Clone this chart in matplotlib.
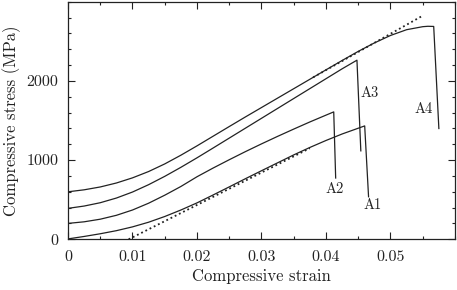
import matplotlib
matplotlib.use("Agg")
import matplotlib.pyplot as plt
from matplotlib.ticker import MultipleLocator

plt.rcParams['font.family'] = 'serif'
plt.rcParams['font.serif'] = ['cmr10', 'DejaVu Serif']
plt.rcParams['mathtext.fontset'] = 'cm'
plt.rcParams['axes.unicode_minus'] = False

# strain / stress
strain_a1 = [0, 0.0025, 0.005, 0.0075, 0.010, 0.0125, 0.015, 0.0175, 0.020, 0.0225,
             0.025, 0.0275, 0.030, 0.0325, 0.035, 0.0375, 0.040, 0.0425, 0.0460, 0.0466]
stress_a1 = [5, 36, 70, 109, 157, 216, 288, 370, 460, 560,
             662, 765, 866, 966, 1066, 1160, 1248, 1330, 1432, 537]

strain_a2 = [0, 0.0025, 0.005, 0.0075, 0.010, 0.0125, 0.015, 0.0175, 0.020, 0.0225,
             0.025, 0.0275, 0.030, 0.0325, 0.035, 0.0375, 0.040, 0.0412, 0.0415]
stress_a2 = [201, 221, 254, 303, 370, 456, 557, 667, 790, 900,
             1005, 1107, 1205, 1300, 1392, 1482, 1568, 1609, 774]

strain_a3 = [0, 0.0025, 0.005, 0.0075, 0.010, 0.0125, 0.015, 0.0175, 0.020, 0.0225,
             0.025, 0.0275, 0.030, 0.0325, 0.035, 0.0375, 0.040, 0.0425, 0.0448, 0.0454]
stress_a3 = [391, 420, 462, 521, 597, 690, 795, 909, 1029, 1153,
             1278, 1403, 1528, 1653, 1778, 1903, 2028, 2153, 2262, 1117]

strain_a4 = [0, 0.0025, 0.005, 0.0075, 0.010, 0.0125, 0.015, 0.0175, 0.020, 0.0225,
             0.025, 0.0275, 0.030, 0.0325, 0.035, 0.0375, 0.040, 0.0425, 0.045, 0.0475,
             0.050, 0.0525, 0.055, 0.0558, 0.0567, 0.0575]
stress_a4 = [600, 625, 661, 711, 776, 856, 952, 1062, 1180, 1302,
             1424, 1545, 1664, 1783, 1902, 2021, 2140, 2258, 2373, 2480,
             2574, 2647, 2685, 2690, 2688, 1399]

tangent_low_x = [0.0094, 0.0375]
tangent_low_y = [0, 1150]
tangent_high_x = [0.038, 0.0548]
tangent_high_y = [2045, 2815]

labels = ['A1', 'A2', 'A3', 'A4']
label_x = [0.0472, 0.0414, 0.0468, 0.0551]
label_y = [430, 635, 1840, 1642]

xticks = [0, 0.01, 0.02, 0.03, 0.04, 0.05]
xtick_labels = ['0', '0.01', '0.02', '0.03', '0.04', '0.05']
yticks = [0, 1000, 2000]
ytick_labels = ['0', '1000', '2000']

fig = plt.figure(figsize=(4.57, 2.90), dpi=100)
ax = fig.add_axes([0.1488, 0.1748, 0.8468, 0.8192])

lc = '#222222'
for sx, sy in [(strain_a1, stress_a1), (strain_a2, stress_a2),
               (strain_a3, stress_a3), (strain_a4, stress_a4)]:
    ax.plot(sx, sy, color=lc, lw=0.9)

ax.plot(tangent_low_x, tangent_low_y, color=lc, lw=1.3, ls=(0, (1, 1.6)))
ax.plot(tangent_high_x, tangent_high_y, color=lc, lw=1.3, ls=(0, (1, 1.6)))

for t, x, y in zip(labels, label_x, label_y):
    ax.text(x, y, t, ha='center', va='center', fontsize=10.5, color=lc)

ax.set_xlim(0, 0.06)
ax.set_ylim(0, 3000)
ax.set_xticks(xticks)
ax.set_xticklabels(xtick_labels)
ax.set_yticks(yticks)
ax.set_yticklabels(ytick_labels)
ax.xaxis.set_minor_locator(MultipleLocator(0.005))
ax.yaxis.set_minor_locator(MultipleLocator(200))
ax.tick_params(which='both', direction='in', top=True, right=True,
               labelsize=11.5, colors=lc)
ax.tick_params(axis='x', which='both', pad=8)
ax.tick_params(axis='y', which='both', pad=7)
ax.tick_params(which='major', length=5, width=0.8)
ax.tick_params(which='minor', length=2.5, width=0.8)
for sp in ax.spines.values():
    sp.set_linewidth(0.9)
    sp.set_color(lc)

ax.set_xlabel('Compressive strain', fontsize=12, color=lc, labelpad=3)
ax.set_ylabel('Compressive stress (MPa)', fontsize=12, color=lc, labelpad=4)

fig.savefig('out.png', dpi=100)
